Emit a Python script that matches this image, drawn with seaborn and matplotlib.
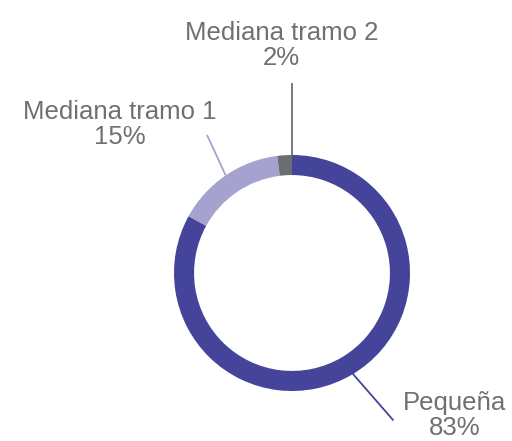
import matplotlib
matplotlib.use("Agg")
import matplotlib.pyplot as plt
import seaborn as sns
import numpy as np

# data
categories = ['Pequeña', 'Mediana tramo 1', 'Mediana tramo 2']
shares = [83, 15, 2]
colors = ['#43449A', '#A5A2CF', '#6B6E6E']

sns.set_style('white')
plt.rcParams['font.family'] = ['Liberation Sans', 'DejaVu Sans']

fig = plt.figure(figsize=(5.12, 4.41), dpi=100)
ax = fig.add_axes([0, 0, 1, 1])

# donut: starts at 12 o'clock, going clockwise
wedges, _ = ax.pie(shares, colors=colors, startangle=90, counterclock=False,
                   radius=1, wedgeprops=dict(width=0.17, linewidth=0))

# label layout (data units, ring radius = 1)
label_pos = [(1.38, -1.21), (-1.46, 1.26), (-0.09, 1.93)]
leader_end = [(0.86, -1.25), (-0.72, 1.17), (0.0, 1.61)]
leader_r = [0.95, 1.0, 1.0]

for w, name, val, col, tp, le, r in zip(wedges, categories, shares, colors,
                                        label_pos, leader_end, leader_r):
    ang = np.deg2rad((w.theta1 + w.theta2) / 2)
    x0, y0 = r * np.cos(ang), r * np.sin(ang)
    if name == 'Mediana tramo 2':
        # leader sits on the 12 o'clock edge of the thin slice
        x0 = np.cos(np.deg2rad(w.theta1)) * r
        le = (x0, le[1])
    ax.plot([x0, le[0]], [y0, le[1]], color=col, lw=1.3, solid_capstyle='butt')
    ax.text(tp[0], tp[1], f'{name}\n{val}%', ha='center', va='center',
            fontsize=18.5, color='#6E7171', linespacing=1.05)

# scale: 118 px per unit, ring centre at (292, 273) px from top-left
ax.set_xlim(-292 / 118, (512 - 292) / 118)
ax.set_ylim(-(441 - 273) / 118, 273 / 118)
ax.set_aspect('auto')
ax.axis('off')

plt.savefig('out.png', dpi=100)
